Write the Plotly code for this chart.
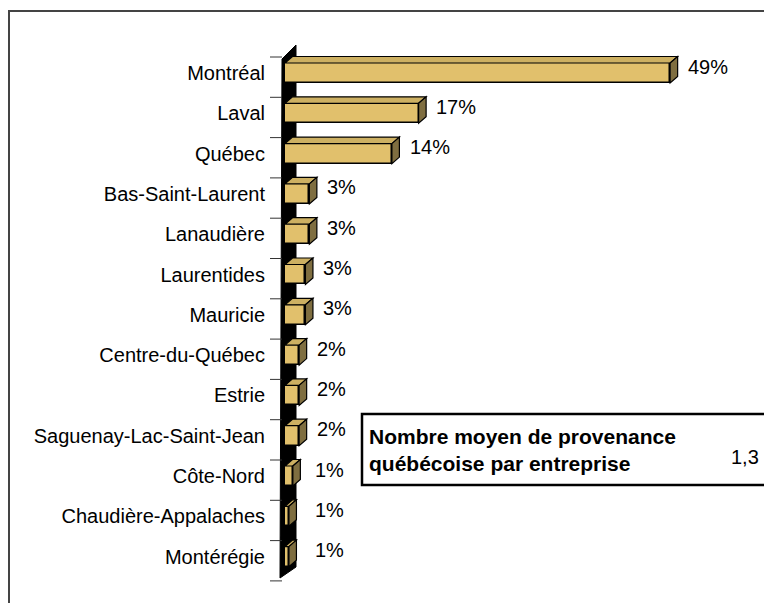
import plotly.graph_objects as go

# ---------------- data ----------------
regions = ["Montréal", "Laval", "Québec", "Bas-Saint-Laurent", "Lanaudière",
           "Laurentides", "Mauricie", "Centre-du-Québec", "Estrie",
           "Saguenay-Lac-Saint-Jean", "Côte-Nord", "Chaudière-Appalaches",
           "Montérégie"]
shares = [49, 17, 13.6, 3.1, 3.1, 2.6, 2.6, 1.8, 1.8, 1.8, 1.0, 0.5, 0.5]
share_labels = ["49%", "17%", "14%", "3%", "3%", "3%", "3%", "2%", "2%", "2%",
                "1%", "1%", "1%"]
summary_text = "Nombre moyen de provenance<br>québécoise par entreprise"
summary_value = "1,3"

# ---------------- styling / geometry ----------------
W, H = 772, 603
OFF = 8                      # page offset of the figure (body margin)
PL, PR, PT, PB = 270, 780, 40, 590   # plot area in page pixels
ML, MT = PL - OFF, PT - OFF
MR = W - (PR - OFF)
MB = H - (PB - OFF)
PX_PCT = 7.86      # pixels per percent
PX_CAT = 40.3      # pixels per category
X0_PX = 285        # page pixel of value 0
Y0_PX = 73         # page pixel of first category
plot_w = PR - PL
plot_h = PB - PT

def xd(px):
    return (px - X0_PX) / PX_PCT

def yd(py):
    return (py - Y0_PX) / PX_CAT

def xp(px):
    return (px - PL) / plot_w

def yp(py):
    return (PB - py) / plot_h

FRONT = "#E1C06C"
TOP = "#CDB062"
SIDE = "#7F6E40"
FONT = "Liberation Sans, Arial, sans-serif"

BAR_W = 0.496
DX = xd(X0_PX + 7.5)   # depth in x
DY = 6.5 / PX_CAT      # depth in y

idx = list(range(len(regions)))

fig = go.Figure()
fig.add_trace(go.Bar(
    y=idx, x=shares, orientation="h", width=BAR_W,
    marker=dict(color=FRONT, line=dict(color="black", width=1.5)),
    hoverinfo="skip",
))

shapes = []
# back wall (black)
shapes.append(dict(
    type="path", xref="x", yref="y", layer="below",
    path=(f"M {xd(282)},{yd(59)} L {xd(296)},{yd(45)} "
          f"L {xd(296)},{yd(567)} L {xd(280)},{yd(578)} Z"),
    fillcolor="black", line=dict(color="black", width=1),
))
# tick marks at category boundaries
for k in range(len(regions) + 1):
    yy = k + yd(57)
    shapes.append(dict(type="line", xref="x", yref="y",
                       x0=xd(270), x1=xd(282), y0=yy, y1=yy,
                       line=dict(color="#333333", width=1)))
# 3D faces of bars
for i, v in enumerate(shares):
    top = i - BAR_W / 2
    bot = i + BAR_W / 2
    shapes.append(dict(
        type="path", xref="x", yref="y", layer="above",
        path=(f"M 0,{top} L {v},{top} L {v + DX},{top - DY} "
              f"L {DX},{top - DY} Z"),
        fillcolor=TOP, line=dict(color="black", width=1.2)))
    shapes.append(dict(
        type="path", xref="x", yref="y", layer="above",
        path=(f"M {v},{top} L {v + DX},{top - DY} L {v + DX},{bot - DY} "
              f"L {v},{bot} Z"),
        fillcolor=SIDE, line=dict(color="black", width=1.2)))
# outer frame
shapes.append(dict(type="rect", xref="paper", yref="paper",
                   x0=xp(9), x1=xp(820), y0=yp(660), y1=yp(11),
                   line=dict(color="#444444", width=2), fillcolor="rgba(0,0,0,0)"))
# summary box
shapes.append(dict(type="rect", xref="paper", yref="paper",
                   x0=xp(362), x1=xp(820), y0=yp(485), y1=yp(414),
                   line=dict(color="black", width=2.5), fillcolor="white"))

annotations = []
for i, (v, lab) in enumerate(zip(shares, share_labels)):
    annotations.append(dict(
        x=max(v + 2.0, 3.6), y=i - 0.16, xref="x", yref="y",
        text=lab, showarrow=False, xanchor="left", yanchor="middle",
        font=dict(family=FONT, size=20, color="black")))
annotations.append(dict(
    x=xp(367), y=yp(450), xref="paper", yref="paper", text=summary_text,
    showarrow=False, xanchor="left", yanchor="middle", align="left",
    font=dict(family=FONT, size=21, color="black", weight="bold")))
annotations.append(dict(
    x=xp(745), y=yp(457), xref="paper", yref="paper", text=summary_value,
    showarrow=False, xanchor="center", yanchor="middle",
    font=dict(family=FONT, size=20, color="black")))
# title (mostly out of frame)
annotations.append(dict(
    x=xp(311), y=yp(10), xref="paper", yref="paper", text="<b>p</b>",
    showarrow=False, xanchor="center", yanchor="bottom",
    font=dict(family="Liberation Serif, Times New Roman, serif", size=26,
              color="black")))

fig.update_layout(
    width=W, height=H,
    margin=dict(l=ML, r=MR, t=MT, b=MB, pad=0),
    paper_bgcolor="white", plot_bgcolor="rgba(0,0,0,0)",
    showlegend=False,
    xaxis=dict(range=[xd(PL), xd(PR)], visible=False, fixedrange=True),
    yaxis=dict(range=[yd(PB), yd(PT)], tickmode="array", tickvals=idx,
               ticktext=regions, ticks="", showgrid=False, zeroline=False,
               showline=False, ticklabelstandoff=4,
               tickfont=dict(family=FONT, size=20, color="black"),
               fixedrange=True),
    shapes=shapes, annotations=annotations,
    bargap=0,
)

fig.write_html("out.html")
